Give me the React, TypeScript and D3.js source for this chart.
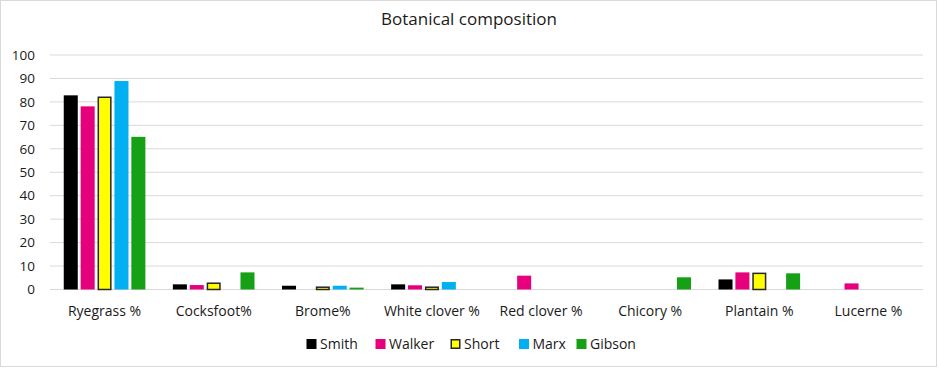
import React from "react";
import * as d3 from "d3";

const categories = ["Ryegrass %", "Cocksfoot%", "Brome%", "White clover %", "Red clover %", "Chicory %", "Plantain %", "Lucerne %"];
const seriesNames = ["Smith", "Walker", "Short", "Marx", "Gibson"];
const smith = [82.8, 2.2, 1.6, 2.2, 0, 0, 4.3, 0];
const walker = [78.1, 1.9, 0, 1.8, 5.9, 0, 7.3, 2.6];
const short = [82.3, 3.0, 1.3, 1.3, 0, 0, 7.2, 0];
const marx = [88.9, 0, 1.6, 3.2, 0, 0, 0, 0];
const gibson = [65.1, 7.3, 0.8, 0, 0, 5.2, 6.9, 0];
const yTicks = [0, 10, 20, 30, 40, 50, 60, 70, 80, 90, 100];
const colors = ["#000000", "#E6007E", "#FFFF00", "#00B0F0", "#16A016"];
const strokes = ["none", "none", "#262626", "none", "none"];

export default function App() {
  const W = 939, H = 369;
  const left = 50, right = 923, top = 55, bottom = 289.5;
  const series = [smith, walker, short, marx, gibson];
  const x = d3.scaleBand<string>().domain(categories).range([left, right]).padding(0);
  const y = d3.scaleLinear().domain([0, 100]).range([bottom, top]);
  const step = 16.9;
  const inner = d3.scaleBand<string>().domain(seriesNames).range([-step * 2.5, step * 2.5]).paddingInner(0.17).paddingOuter(0.085);
  const font = "'Open Sans', sans-serif";
  const legendX = [306.5, 375.5, 450.5, 519, 576.5];
  return (
    <svg width={W} height={H} style={{ position: "absolute", left: 0, top: 0, background: "#fff" }} fontFamily={font}>
      <rect x={0.5} y={0.5} width={936} height={366} fill="#fff" stroke="#d9d9d9" />
      <text x={469} y={25} textAnchor="middle" fontSize={17} fill="#1a1a1a">Botanical composition</text>
      {yTicks.map((t) => (
        <g key={t}>
          <line x1={left} x2={right} y1={y(t)} y2={y(t)} stroke="#d9d9d9" strokeWidth={1} />
          <text x={35} y={y(t)} dy="0.35em" textAnchor="end" fontSize={13.5} fill="#1a1a1a">{t}</text>
        </g>
      ))}
      {categories.map((c, ci) => (
        <g key={c}>
          {series.map((s, si) => {
            const v = s[ci];
            if (!v) return null;
            const cx = (x(c) as number) + x.bandwidth() / 2;
            const bx = cx + (inner(seriesNames[si]) as number);
            const bw = inner.bandwidth();
            const isShort = strokes[si] !== "none";
            return (
              <rect key={si}
                x={isShort ? bx + 0.75 : bx}
                y={isShort ? y(v) + 0.75 : y(v)}
                width={isShort ? bw - 1.5 : bw}
                height={isShort ? Math.max(0, bottom - y(v) - 0.75) : bottom - y(v)}
                fill={colors[si]}
                stroke={isShort ? strokes[si] : "none"}
                strokeWidth={1.5} />
            );
          })}
          <text x={(x(c) as number) + x.bandwidth() / 2} y={311} dy="0.35em" textAnchor="middle" fontSize={14} fill="#1a1a1a">{c}</text>
        </g>
      ))}
      {seriesNames.map((n, i) => (
        <g key={n}>
          <rect x={strokes[i] !== "none" ? legendX[i] + 0.75 : legendX[i]} y={strokes[i] !== "none" ? 339.75 : 339} width={strokes[i] !== "none" ? 8.5 : 10} height={strokes[i] !== "none" ? 8.5 : 10}
            fill={colors[i]} stroke={strokes[i]} strokeWidth={1.5} />
          <text x={legendX[i] + 13.5} y={344} dy="0.35em" fontSize={14} fill="#1a1a1a">{n}</text>
        </g>
      ))}
    </svg>
  );
}
